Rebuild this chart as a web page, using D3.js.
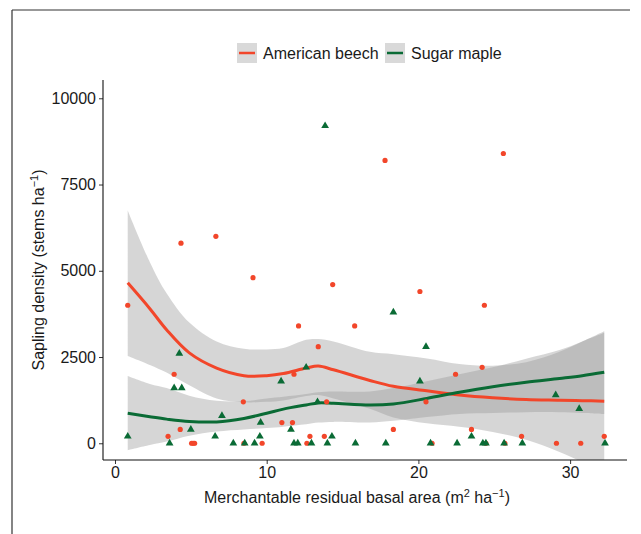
<!DOCTYPE html>
<html>
<head>
<meta charset="utf-8">
<script src="https://cdn.jsdelivr.net/npm/d3@7/dist/d3.min.js"></script>
<style>
  body { margin: 0; background: #fff; }
  text { font-family: "Liberation Sans", Arial, sans-serif; }
</style>
</head>
<body>
<svg width="641" height="534"></svg>
<script>
// raw points
let beechX = [0.84, 4.35, 6.65, 9.1, 17.8, 25.6, 14.35, 12.1, 15.8, 13.4, 3.9, 11.8, 8.46, 13.95, 11.0, 11.7, 4.3, 3.5, 12.85, 13.8,
  5.05, 5.15, 5.25, 8.5, 9.7, 12.65, 20.1, 24.35, 24.2, 22.45, 20.5, 18.35, 23.5, 26.8, 32.25, 29.1, 30.7, 24.45, 25.7, 20.9];
let beechY = [4000, 5800, 6000, 4800, 8200, 8400, 4600, 3400, 3400, 2800, 2000, 2000, 1200, 1200, 600, 600, 400, 200, 200, 200,
  0, 0, 0, 0, 0, 0, 4400, 4000, 2200, 2000, 1200, 400, 400, 200, 200, 0, 0, 0, 0, 0];

let mapleX = [13.85, 0.84, 4.24, 3.9, 4.4, 7.05, 5.0, 6.6, 10.95, 9.6, 11.6, 9.55, 14.3, 13.35, 12.6, 18.35, 20.5, 20.1, 29.05, 30.6, 23.5,
  3.6, 7.8, 8.55, 9.2, 11.8, 12.05, 12.95, 14.0, 15.85, 17.85, 20.8, 22.55, 24.25, 24.45, 25.65, 26.85, 32.3];
let mapleY = [9200, 200, 2600, 1600, 1600, 800, 400, 200, 1800, 600, 400, 200, 200, 1200, 2200, 3800, 2800, 1800, 1400, 1000, 200,
  0, 0, 0, 0, 0, 0, 0, 0, 0, 0, 0, 0, 0, 0, 0, 0, 0];

// smoother
let fitX = [0.84, 2.3, 3.4, 4.9, 6.7, 8.5, 10, 11.1, 12.6, 13.4, 14.4, 16.8, 18.35, 20.55, 22.7, 24.9, 27.1, 29.3, 30.8, 32.25];
let beechFit = [4650, 3900, 3290, 2620, 2180, 1960, 1960, 2020, 2180, 2240, 2130, 1820, 1650, 1520, 1400, 1320, 1270, 1250, 1235, 1220];
let beechHi  = [6750, 5250, 4350, 3500, 2950, 2740, 2720, 2760, 3000, 3020, 2950, 2650, 2580, 2460, 2300, 2250, 2350, 2650, 2950, 3250];
let beechLo  = [2530, 2270, 2050, 1680, 1300, 1190, 1200, 1240, 1370, 1400, 1300, 1000, 750, 580, 480, 330, 100, -250, -550, -900];
let mapleFit = [870, 770, 700, 630, 620, 720, 870, 990, 1110, 1170, 1160, 1110, 1140, 1300, 1480, 1640, 1770, 1880, 1960, 2060];
let mapleHi  = [1950, 1720, 1600, 1380, 1230, 1220, 1300, 1350, 1430, 1480, 1500, 1500, 1600, 1800, 2000, 2200, 2450, 2700, 2950, 3200];
let mapleLo  = [-200, -50, 50, 220, 340, 400, 440, 480, 550, 600, 620, 600, 650, 760, 850, 880, 900, 900, 880, 850];

let xTicks = [0, 10, 20, 30];
let yTicks = [0, 2500, 5000, 7500, 10000];
let seriesNames = ["American beech", "Sugar maple"];

let red = "#f2462a";
let green = "#0a6b35";

let svg = d3.select("svg");

// page frame
svg.append("line").attr("x1", 12).attr("x2", 12).attr("y1", 10).attr("y2", 534)
  .attr("stroke", "#333").attr("stroke-width", 1.2);
svg.append("line").attr("x1", 12).attr("x2", 630).attr("y1", 10).attr("y2", 10)
  .attr("stroke", "#333").attr("stroke-width", 1.2);

var padding = {t: 80, l: 103, r: 627, b: 460};

var x = d3.scaleLinear().domain([-0.79, 33.75]).range([padding.l, padding.r]);
var y = d3.scaleLinear().domain([-485, 10530]).range([padding.b, padding.t]);

svg.append("clipPath").attr("id", "panel")
  .append("rect").attr("x", padding.l).attr("y", padding.t)
  .attr("width", padding.r - padding.l).attr("height", padding.b - padding.t);

let plotG = svg.append("g").attr("clip-path", "url(#panel)");

let band = d3.area()
  .x(function(d) { return x(d.x); })
  .y0(function(d) { return y(d.lo); })
  .y1(function(d) { return y(d.hi); })
  .curve(d3.curveCatmullRom);
let fitLine = d3.line()
  .x(function(d) { return x(d.x); })
  .y(function(d) { return y(d.f); })
  .curve(d3.curveCatmullRom);

let beechFitData = fitX.map((v, i) => ({x: v, f: beechFit[i], lo: beechLo[i], hi: beechHi[i]}));
let mapleFitData = fitX.map((v, i) => ({x: v, f: mapleFit[i], lo: mapleLo[i], hi: mapleHi[i]}));

// ribbons
[beechFitData, mapleFitData].forEach(function(dd) {
  plotG.append("path").datum(dd).attr("d", band)
    .attr("fill", "#999").attr("fill-opacity", 0.4);
});

// lines
plotG.append("path").datum(beechFitData).attr("d", fitLine)
  .attr("fill", "none").attr("stroke", red).attr("stroke-width", 3);
plotG.append("path").datum(mapleFitData).attr("d", fitLine)
  .attr("fill", "none").attr("stroke", green).attr("stroke-width", 3);

// points
plotG.selectAll(".beech")
  .data(beechX.map((v, i) => [v, beechY[i]]))
  .join("circle")
    .attr("cx", d => x(d[0]))
    .attr("cy", d => y(d[1]))
    .attr("r", 2.6)
    .attr("fill", red);

let tri = d3.symbol().type(d3.symbolTriangle).size(26);
plotG.selectAll(".maple")
  .data(mapleX.map((v, i) => [v, mapleY[i]]))
  .join("path")
    .attr("d", tri)
    .attr("transform", d => "translate(" + x(d[0]) + "," + y(d[1]) + ")")
    .attr("fill", green);

// axes
let xAxis = svg.append("g")
  .attr("transform", "translate(0," + padding.b + ")")
  .call(d3.axisBottom(x).tickValues(xTicks).tickSize(4).tickPadding(3));
let yAxis = svg.append("g")
  .attr("transform", "translate(" + padding.l + ",0)")
  .call(d3.axisLeft(y).tickValues(yTicks).tickSize(4).tickPadding(3).tickFormat(d3.format("d")));

[xAxis, yAxis].forEach(function(a) {
  a.select(".domain").remove();
  a.selectAll("line").attr("stroke", "#333");
  a.selectAll("text").attr("font-size", 16).attr("fill", "#1a1a1a")
    .attr("font-family", "Liberation Sans, Arial, sans-serif");
});
svg.append("line").attr("x1", padding.l).attr("x2", padding.r).attr("y1", padding.b).attr("y2", padding.b)
  .attr("stroke", "#111").attr("stroke-width", 1.1);
svg.append("line").attr("x1", padding.l).attr("x2", padding.l).attr("y1", padding.t).attr("y2", padding.b)
  .attr("stroke", "#111").attr("stroke-width", 1.1);

// axis titles
let xt = svg.append("text").attr("x", (padding.l + padding.r) / 2 - 8).attr("y", 503)
  .attr("text-anchor", "middle").attr("font-size", 16).attr("fill", "#1a1a1a");
xt.append("tspan").text("Merchantable residual basal area (m");
xt.append("tspan").text("2").attr("font-size", 11).attr("dy", -6);
xt.append("tspan").text(" ha").attr("dy", 6);
xt.append("tspan").text("\u22121").attr("font-size", 11).attr("dy", -6);
xt.append("tspan").text(")").attr("dy", 6);

let yt = svg.append("text")
  .attr("transform", "translate(44," + ((padding.t + padding.b) / 2) + ") rotate(-90)")
  .attr("text-anchor", "middle").attr("font-size", 16).attr("fill", "#1a1a1a");
yt.append("tspan").text("Sapling density (stems ha");
yt.append("tspan").text("\u22121").attr("font-size", 11).attr("dy", -6);
yt.append("tspan").text(")").attr("dy", 6);

// legend
let legendX = [237, 385];
let legendColors = [red, green];
seriesNames.forEach(function(name, i) {
  let g = svg.append("g").attr("transform", "translate(" + legendX[i] + ",43)");
  g.append("rect").attr("width", 20).attr("height", 20).attr("fill", "#d9d9d9");
  g.append("line").attr("x1", 2).attr("x2", 18).attr("y1", 10).attr("y2", 10)
    .attr("stroke", legendColors[i]).attr("stroke-width", 2.5);
  g.append("text").attr("x", 26).attr("y", 16).attr("font-size", 16).attr("fill", "#1a1a1a").text(name);
});
</script>
</body>
</html>
